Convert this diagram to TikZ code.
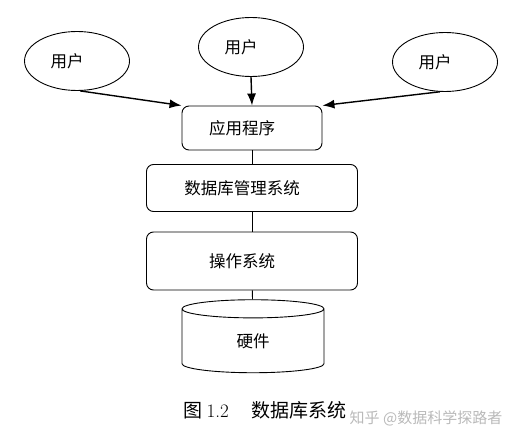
\documentclass[tikz,border=0pt]{standalone}
\usepackage{fontspec}
\newfontfamily\cjk{Noto Sans CJK SC}
\usetikzlibrary{shapes.geometric, arrows.meta}

\tikzset{
	user/.style={draw, ellipse, line width=.9pt, minimum width=105pt,
		minimum height=59pt, inner sep=0pt},
	layer/.style={draw, rounded corners=7pt, line width=.9pt, inner sep=0pt},
	word/.style={label={[xshift=-10pt]center:#1}},
	link/.style={-{Latex[length=12pt, width=9pt]}, line width=1.4pt},
}

\begin{document}
\begin{tikzpicture}[x=1pt, y=-1pt, font=\cjk\fontsize{16.5pt}{19pt}\selectfont]
		\useasboundingbox (0, 0) rectangle (517, 441);

		% users
		\node[user, word=用户] (uL) at (77, 61) {};
		\node[user, word=用户] (uM) at (251, 47) {};
		\node[user, word=用户] (uR) at (445, 62) {};

		% layers
		\node[layer, minimum width=140pt, minimum height=44pt, word=应用程序] (app) at (252, 128) {};
		\node[layer, minimum width=211pt, minimum height=47pt, word=数据库管理系统] (dbms) at (252, 188) {};
		\node[layer, minimum width=211pt, minimum height=58pt, word=操作系统] (os) at (252, 261) {};
		\node[draw, cylinder, shape border rotate=90, aspect=.55, line width=.9pt,
			minimum width=142pt, minimum height=73pt, inner sep=0pt] (hw) at (253, 341) {硬件};

		\draw[link] (uL.-84) -- (app.north west);
		\draw[link] (uM.south) -- (app.north);
		\draw[link] (uR.-100) -- (app.north east);

		\draw[line width=.9pt] (app) -- (dbms);
		\draw[line width=.9pt] (dbms) -- (os);
		\draw[line width=.9pt] (os) -- (hw);

		\node[font=\cjk\fontsize{19pt}{22pt}\selectfont] (cap) at (265, 410)
			{图 {\rmfamily 1.2}\hspace{1.2em}数据库系统};
		\node[text=gray!55, font=\cjk\fontsize{15pt}{18pt}\selectfont] (mark) at (426, 418)
			{知乎 @数据科学探路者};
	\end{tikzpicture}
\end{document}
